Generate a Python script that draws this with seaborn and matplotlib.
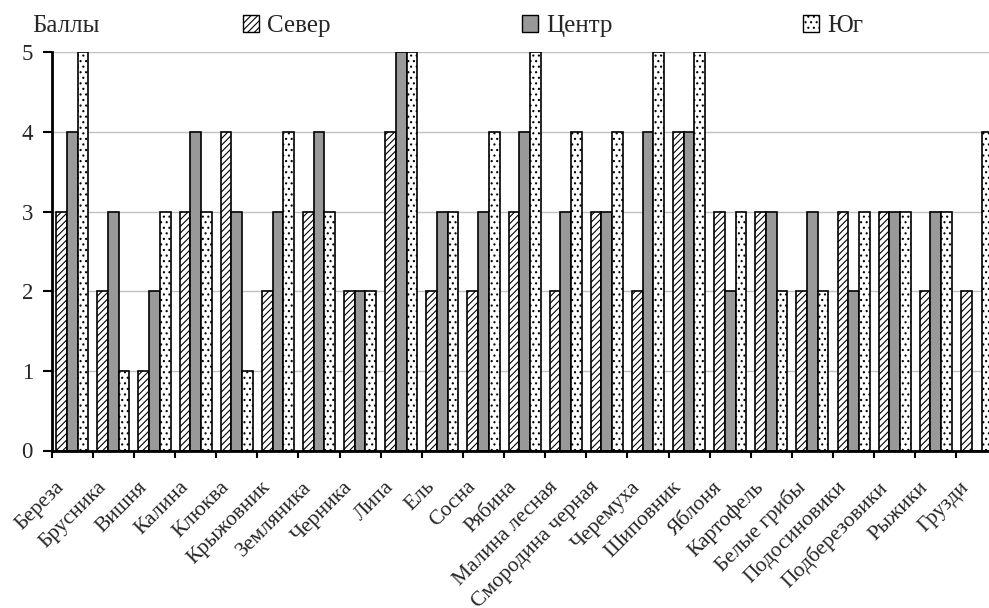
import matplotlib
matplotlib.use("Agg")
import matplotlib.pyplot as plt
from matplotlib.patches import Patch
from matplotlib.ticker import FixedLocator, NullFormatter
from matplotlib.transforms import ScaledTranslation
import numpy as np
import pandas as pd
import seaborn as sns

categories = ["Береза", "Брусника", "Вишня", "Калина", "Клюква", "Крыжовник",
              "Земляника", "Черника", "Липа", "Ель", "Сосна", "Рябина",
              "Малина лесная", "Смородина черная", "Черемуха", "Шиповник",
              "Яблоня", "Картофель", "Белые грибы", "Подосиновики",
              "Подберезовики", "Рыжики", "Грузди"]
sever = [3, 2, 1, 3, 4, 2, 3, 2, 4, 2, 2, 3, 2, 3, 2, 4, 3, 3, 2, 3, 3, 2, 2]
centr = [4, 3, 2, 4, 3, 3, 4, 2, 5, 3, 3, 4, 3, 3, 4, 4, 2, 3, 3, 2, 3, 3, 0]
yug   = [5, 1, 3, 3, 1, 4, 3, 2, 5, 3, 4, 5, 4, 4, 5, 5, 3, 2, 2, 3, 3, 3, 4]
regions = ["Север", "Центр", "Юг"]
y_ticks = [0, 1, 2, 3, 4, 5]
y_label = "Баллы"

df = pd.DataFrame({
    "Культура": categories * 3,
    "Регион": [r for r in regions for _ in categories],
    "Балл": sever + centr + yug,
})

sns.set_theme(style="white")
plt.rcParams["font.family"] = ["Liberation Serif", "DejaVu Serif"]
plt.rcParams["hatch.linewidth"] = 0.8
plt.rcParams["hatch.color"] = "black"

fig = plt.figure(figsize=(9.89, 6.08), dpi=100)
ax = fig.add_axes([51.7 / 989, 157.5 / 608, 945.8 / 989, 398.2 / 608])

fills = {"Север": "white", "Центр": "#999999", "Юг": "white"}
hatches = {"Север": "/////", "Центр": "", "Юг": "..."}

sns.barplot(data=df, x="Культура", y="Балл", hue="Регион", hue_order=regions,
            palette=fills, edgecolor="black", linewidth=1.2, width=0.78,
            gap=0, legend=False, saturation=1, ax=ax, zorder=3)

for cont, reg in zip(ax.containers, regions):
    for bar in cont:
        bar.set_hatch(hatches[reg])
        bar.set_edgecolor("black")

ax.set_xlim(-0.5, len(categories) - 0.5)
ax.set_ylim(0, 5)
ax.set_yticks(y_ticks)
ax.yaxis.grid(True, color="#c0c0c0", linewidth=1.0, zorder=0)
ax.set_axisbelow(True)
ax.set_xlabel("")
ax.set_ylabel("")

for side in ["top", "right"]:
    ax.spines[side].set_visible(False)
for side in ["left", "bottom"]:
    ax.spines[side].set_color("black")
    ax.spines[side].set_linewidth(2.0)
    ax.spines[side].set_zorder(4)

ax.tick_params(axis="y", which="major", direction="out", length=6.5, width=1.5,
               color="black", labelsize=16.5, pad=7, left=True)
ax.tick_params(axis="x", which="major", length=0, labelsize=15.5, pad=8)
ax.xaxis.set_minor_locator(FixedLocator(np.arange(-0.5, len(categories), 1.0)))
ax.xaxis.set_minor_formatter(NullFormatter())
ax.tick_params(axis="x", which="minor", direction="out", length=5, width=1.5,
               color="black", bottom=True)

ax.set_xticks(range(len(categories)))
ax.set_xticklabels(categories, rotation=45, ha="right", rotation_mode="anchor")
shift = ScaledTranslation(-17 / 100, -16 / 100, fig.dpi_scale_trans)
for lbl in ax.get_xticklabels():
    lbl.set_transform(lbl.get_transform() + shift)

fig.text(66 / 989, 1 - 26 / 608, y_label, ha="center", va="center", fontsize=18)

legend_x = [243 / 989, 522 / 989, 803 / 989]
for reg, lx in zip(regions, legend_x):
    handle = Patch(facecolor=fills[reg], edgecolor="black", hatch=hatches[reg],
                   linewidth=1.0)
    fig.legend(handles=[handle], labels=[reg], loc="center left",
               bbox_to_anchor=(lx, 1 - 26 / 608), frameon=False, fontsize=18,
               handlelength=0.65, handleheight=0.65, handletextpad=0.3,
               borderpad=0, borderaxespad=0)

fig.savefig("out.png", dpi=100, facecolor="white")
